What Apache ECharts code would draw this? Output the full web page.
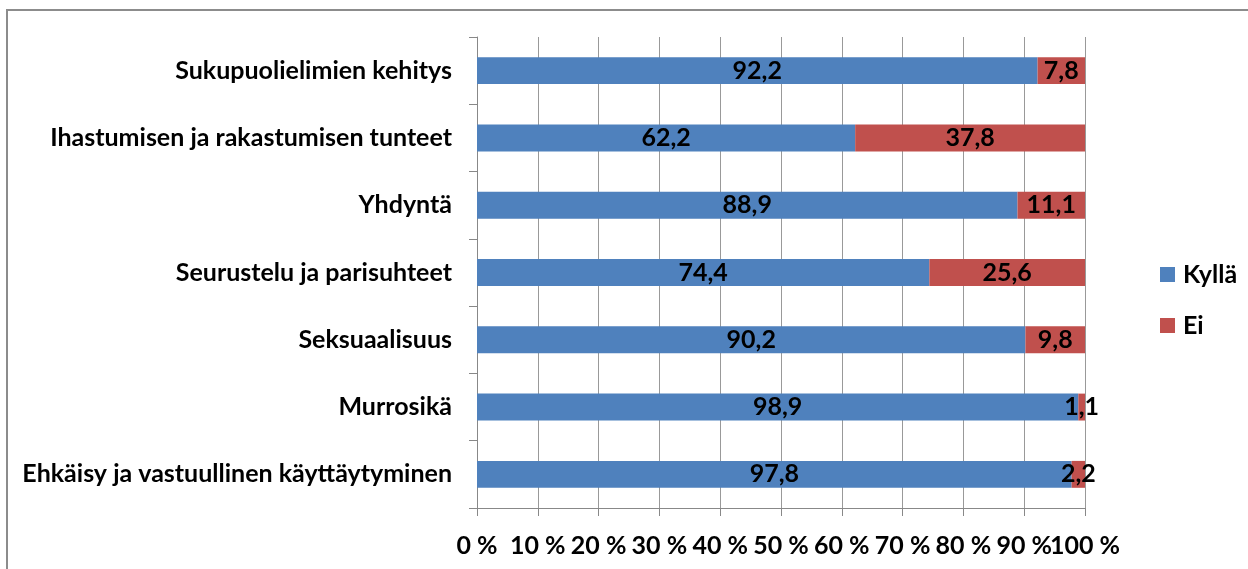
<!DOCTYPE html>
<html><head><meta charset="utf-8">
<script src="https://cdn.jsdelivr.net/npm/echarts@6/dist/echarts.min.js"></script>
<style>html,body{margin:0;padding:0;background:#fff}#c{width:1248px;height:569px}</style>
</head><body><div id="c"></div>
<script>
var categories = ["Sukupuolielimien kehitys","Ihastumisen ja rakastumisen tunteet","Yhdyntä","Seurustelu ja parisuhteet","Seksuaalisuus","Murrosikä","Ehkäisy ja vastuullinen käyttäytyminen"];
var kylla = [92.2, 62.2, 88.9, 74.4, 90.2, 98.9, 97.8];
var ei = [7.8, 37.8, 11.1, 25.6, 9.8, 1.1, 2.2];
var tickLabels = ["0 %","10 %","20 %","30 %","40 %","50 %","60 %","70 %","80 %","90 %","100 %"];
var FONT = "Lato,'Open Sans',sans-serif";
var FS = 25;
var chart = echarts.init(document.getElementById('c'));
function lbl(p){ return String(p.value).replace('.', ','); }
chart.setOption({
  animation:false,
  graphic:[{type:'rect',shape:{x:7,y:10,width:1400,height:700},style:{fill:'none',stroke:'#8c8c8c',lineWidth:2},z:-1}],
  grid:{left:477,right:163,top:37,bottom:61},
  legend:{orient:'vertical',left:1155,top:257,itemWidth:15,itemHeight:15,itemGap:26,icon:'rect',
    textStyle:{fontFamily:FONT,fontWeight:'bold',fontSize:FS,lineHeight:25,color:'#000',padding:[0,0,0,3]},
    data:['Kyllä','Ei']},
  xAxis:[
    {type:'value',min:0,max:100,interval:10,
     axisLine:{show:true,lineStyle:{color:'#888'}},
     axisTick:{show:true,length:8,lineStyle:{color:'#888'}},
     splitLine:{show:true,lineStyle:{color:'#999'}},
     axisLabel:{show:false}},
    {type:'category',data:tickLabels,boundaryGap:false,position:'bottom',
     axisLine:{show:false},axisTick:{show:false},splitLine:{show:false},
     axisLabel:{interval:0,fontFamily:FONT,fontWeight:'bold',fontSize:FS,color:'#000',margin:25,hideOverlap:false}}
  ],
  yAxis:{type:'category',data:categories,inverse:true,
    axisLine:{show:true,lineStyle:{color:'#888'}},
    axisTick:{show:true,length:8,lineStyle:{color:'#888'}},
    axisLabel:{fontFamily:FONT,fontWeight:'bold',fontSize:FS,color:'#000',margin:25}},
  series:[
    {name:'Kyllä',type:'bar',stack:'a',data:kylla,barWidth:'40%',itemStyle:{color:'#4F81BD'},
     label:{show:true,position:'inside',formatter:lbl,fontFamily:FONT,fontWeight:'bold',fontSize:FS,color:'#000'}},
    {name:'Ei',type:'bar',stack:'a',data:ei,barWidth:'40%',itemStyle:{color:'#C0504D'},
     label:{show:true,position:'inside',formatter:lbl,fontFamily:FONT,fontWeight:'bold',fontSize:FS,color:'#000'}}
  ]
});
</script></body></html>
